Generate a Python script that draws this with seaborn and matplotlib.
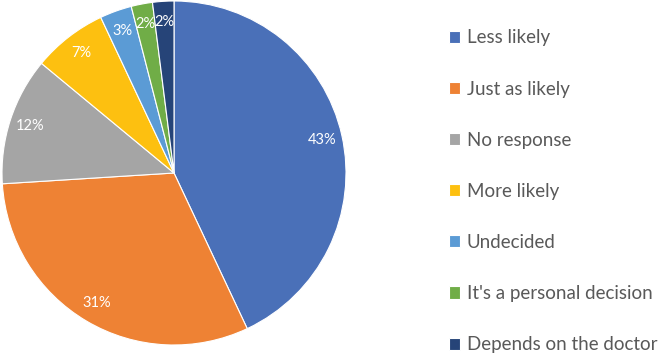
import matplotlib
matplotlib.use("Agg")
import matplotlib.pyplot as plt
import seaborn as sns

categories = ["Less likely", "Just as likely", "No response", "More likely",
              "Undecided", "It's a personal decision", "Depends on the doctor"]
shares = [43, 31, 12, 7, 3, 2, 2]
colors = ["#4A70B8", "#EE8234", "#A5A5A5", "#FDC010", "#5B9BD5", "#70AD47", "#264478"]

sns.set_theme(style="white")
plt.rcParams["font.family"] = ["Lato", "DejaVu Sans"]

fig = plt.figure(figsize=(6.66, 3.54), dpi=100)
ax = fig.add_axes([2 / 666, 9 / 354, 344 / 666, 344 / 354])

palette = sns.color_palette(colors)
wedges, texts, autotexts = ax.pie(
    shares, colors=palette, startangle=90, counterclock=False,
    autopct="%d%%", pctdistance=0.88, radius=1,
    wedgeprops=dict(edgecolor="white", linewidth=0.8),
    textprops=dict(color="white", fontsize=10.5),
)
ax.set_xlim(-1, 1)
ax.set_ylim(-1, 1)
ax.set_aspect("equal")
ax.axis("off")

fig.legend(wedges, categories, loc="upper left", bbox_to_anchor=(441 / 666, 1 - 22 / 354),
           frameon=False, fontsize=13.5, labelcolor="#595959",
           handlelength=0.62, handleheight=0.62, handletextpad=0.35,
           labelspacing=1.82, borderaxespad=0)

fig.savefig("out.png", dpi=100)
